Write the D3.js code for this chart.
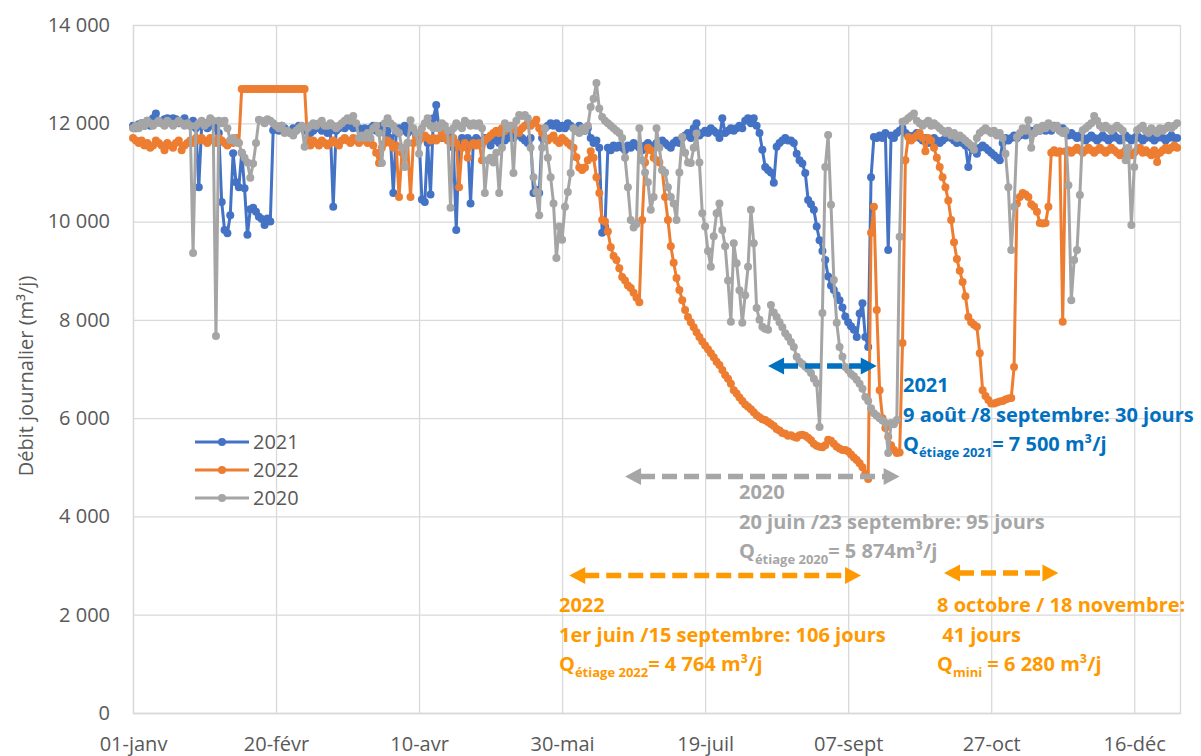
<!DOCTYPE html>
<html>
<head>
<meta charset="utf-8">
<script src="https://cdn.jsdelivr.net/npm/d3@7"></script>
<style>
  body { margin: 0; background: #fff; }
  svg text { font-family: "Open Sans", sans-serif; }
</style>
</head>
<body>
<svg id="chart" width="1201" height="756"></svg>
<script>
// Axis ticks (day index from 1 January, leap-year calendar)
const tickDays = [0, 50, 100, 150, 200, 250, 300, 350];
const tickLabels = ["01-janv", "20-févr", "10-avr", "30-mai", "19-juil", "07-sept", "27-oct", "16-déc"];
const yTicks = [0, 2000, 4000, 6000, 8000, 10000, 12000, 14000];

// Daily flow (m3/j), one value per day
const q2021 = [
  11950, 11900, 11980, 12000, 11950, 12050, 11950, 12100, 12200, 12050,
  12000, 12080, 12100, 12050, 12100, 12080, 12000, 12050, 12100, 12000,
  11950, 12050, 11900, 10700, 11950, 12000, 11900, 12050, 11950, 11900,
  11800, 10400, 9830, 9760, 10130, 11390, 10800, 10700, 11400, 10680,
  9730, 10250, 10280, 10200, 10100, 10050, 9930, 10060, 10000, 11860,
  11900, 11850, 11950, 11900, 11850, 11800, 11900, 11850, 11950, 11900,
  11850, 11900, 11800, 11850, 11900, 11950, 11850, 11900, 11800, 11850,
  10300, 11850, 11900, 11950, 11900, 12000, 11950, 11900, 11950, 11900,
  11850, 11900, 11800, 11900, 11950, 11850, 11900, 11950, 11800, 11850,
  11700, 10580, 11800, 11900, 11850, 11950, 11800, 11900, 11850, 11750,
  11700, 10450, 10400, 11600, 10550, 12100, 12370, 11900, 11700, 11750,
  11800, 11700, 11500, 9830, 11600, 11700, 11650, 11700, 10370, 11650,
  11700, 11650, 11600, 11700, 11650, 11550, 11700, 11650, 11600, 11700,
  11650, 11700, 11750, 11700, 11800, 11750, 11700, 11650, 11600, 11700,
  10580, 10650, 10580, 11700, 11900, 11950, 12000, 11950, 12000, 11900,
  11950, 11900, 12000, 11950, 11900, 11850, 11950, 11900, 11850, 11900,
  11700, 11600, 11650, 11500, 9770, 9900, 11500, 11450, 11550, 11500,
  11550, 11500, 11450, 11550, 11500, 11600, 11550, 11500, 11450, 11550,
  11600, 11550, 11500, 11600, 11550, 11650, 11600, 11550, 11500, 11600,
  11650, 11600, 11700, 11750, 11800, 11700, 11900, 12000, 11750, 11800,
  11850, 11800, 11900, 11850, 11800, 11700, 12100, 11800, 11850, 11900,
  11850, 11900, 11950, 11900, 12050, 12100, 12000, 12100, 11950, 11800,
  11460, 11110, 11050, 11000, 10790, 11520, 11600, 11650, 11700, 11650,
  11650, 11600, 11380, 11250, 11180, 10990, 10440, 10350, 10240, 9900,
  9620, 9400, 9220, 8880, 8700, 8610, 8500, 8400, 8250, 8070,
  7950, 7870, 7800, 7650, 8130, 8340, 7650, 7450, 10900, 11720,
  11700, 11750, 11700, 11800, 9420, 11750, 11700, 11800, 11850, 11900,
  11800, 11750, 11700, 11750, 11800, 11700, 11650, 11700, 11600, 11650,
  11700, 11650, 11600, 11650, 11700, 11750, 11700, 11650, 11600, 11650,
  11600, 11550, 11110, 11500, 11450, 11380, 11500, 11550, 11500, 11450,
  11400, 11350, 11300, 11250, 11600, 11700, 11650, 11700, 11750, 11700,
  11750, 11800, 11750, 11800, 11850, 11800, 11900, 11850, 11900, 11850,
  11900, 11850, 11950, 11900, 11850, 11900, 11800, 11750, 11800, 11750,
  11700, 11750, 11700, 11650, 11700, 11750, 11700, 11650, 11700, 11750,
  11700, 11650, 11700, 11750, 11700, 11650, 11700, 11750, 11700, 11650,
  11700, 11750, 11700, 11650, 11700, 11750, 11700, 11650, 11700, 11750,
  11700, 11650, 11700, 11750, 11700, 11700
];

const q2022 = [
  11700, 11650, 11600, 11650, 11550, 11600, 11500, 11550, 11650, 11600,
  11550, 11450, 11600, 11550, 11500, 11600, 11650, 11450, 11550, 11600,
  11650, 11600, 11700, 11650, 11700, 11650, 11600, 11700, 11650, 11600,
  11700, 11650, 11600, 11550, 11650, 11600, 11700, 11600, 12700, 12700,
  12700, 12700, 12700, 12700, 12700, 12700, 12700, 12700, 12700, 12700,
  12700, 12700, 12700, 12700, 12700, 12700, 12700, 12700, 12700, 12700,
  12700, 11650, 11550, 11650, 11600, 11550, 11650, 11600, 11550, 11600,
  11650, 11600, 11550, 11650, 11700, 11650, 11600, 11700, 11650, 11600,
  11650, 11700, 11600, 11650, 11550, 11400, 11190, 11500, 11600, 11650,
  11600, 11500, 11550, 10500, 11400, 11500, 11600, 10500, 11600, 11700,
  11650, 11700, 11750, 11700, 11650, 11700, 11650, 11700, 11800, 11700,
  11650, 11600, 11700, 11600, 10700, 11500, 11600, 11300, 11550, 11600,
  11550, 11600, 11250, 11650, 11700, 11750, 11800, 11850, 11800, 11900,
  11850, 11900, 11950, 11900, 11850, 11800, 11900, 11950, 12000, 11950,
  12000, 12070, 11900, 11800, 11700, 11650, 11700, 11750, 11650, 11600,
  11700, 11650, 11600, 11550, 11500, 11310, 11100, 11050, 11100, 11250,
  11430, 11300, 10900, 10580, 10030, 10000, 9800, 9480, 9300, 9220,
  9050, 8870, 8800, 8700, 8650, 8550, 8450, 8360, 10030, 11200,
  11500, 11450, 11300, 11250, 11200, 11050, 10500, 10030, 9500, 9160,
  8850, 8610, 8400, 8200, 8060, 7950, 7850, 7750, 7650, 7560,
  7480, 7400, 7320, 7240, 7150, 7080, 6980, 6880, 6800, 6700,
  6570, 6500, 6420, 6350, 6280, 6230, 6180, 6120, 6060, 6020,
  5980, 5960, 5920, 5880, 5840, 5780, 5750, 5700, 5680, 5640,
  5650, 5620, 5600, 5650, 5660, 5640, 5600, 5550, 5480, 5440,
  5420, 5410, 5450, 5560, 5540, 5480, 5420, 5380, 5350, 5350,
  5320, 5260, 5200, 5150, 5080, 5000, 4880, 4764, 9770, 10300,
  8200, 6570, 6000, 5800, 5620, 5450, 5350, 5290, 5300, 7530,
  11250, 11720, 11650, 11700, 11750, 11800, 11700, 11430, 11700, 11650,
  11500, 11300, 11110, 10900, 10700, 10430, 10030, 9580, 9240, 9000,
  8770, 8480, 8060, 7950, 7900, 7860, 7320, 6570, 6450, 6370,
  6300, 6300, 6320, 6340, 6350, 6380, 6400, 6410, 7040, 10370,
  10500, 10580, 10550, 10500, 10350, 10300, 10200, 9970, 9960, 9970,
  10300, 11400, 11450, 11400, 11430, 7960, 11430, 11450, 11400, 11450,
  11500, 11450, 11400, 11450, 11500, 11450, 11400, 11450, 11500, 11450,
  11400, 11450, 11500, 11450, 11400, 11350, 11400, 11450, 11400, 11350,
  11400, 11450, 11500, 11400, 11450, 11400, 11350, 11450, 11210, 11400,
  11450, 11500, 11450, 11500, 11550, 11500
];

const q2020 = [
  11900, 11950, 11900, 12000, 11950, 12050, 12000, 11950, 12000, 12050,
  12000, 11950, 12050, 12000, 11950, 12000, 12050, 12000, 11950, 12000,
  11950, 9360, 11950, 12000, 12050, 11950, 12000, 12100, 12050, 7670,
  12050, 12000, 12050, 11900, 11660, 11700, 11620, 11600, 11400, 11300,
  11200, 10890, 11180, 11600, 12070, 12050, 12000, 12080, 12050, 12000,
  11950, 11900, 11950, 11800, 11850, 11800, 11750, 11850, 11900, 11950,
  11520, 11900, 11950, 12000, 11950, 12000, 12050, 11950, 11950, 12000,
  11950, 11900, 11950, 12000, 12050, 12100, 12050, 12150, 12000, 11700,
  11750, 11700, 11800, 11700, 11900, 11950, 11800, 11190, 12000, 12100,
  12000, 11950, 11850, 11800, 11500, 11110, 11600, 12060, 11900, 11800,
  11380, 11900, 12000, 12100, 11950, 11900, 11950, 11900, 12000, 11950,
  11850, 10280, 11900, 12000, 11950, 11900, 12050, 12000, 11950, 12000,
  11950, 12000, 11900, 10580, 11250, 11300, 11200, 11400, 10580, 11500,
  12000, 11900, 11950, 10990, 12050, 12170, 12150, 12170, 12100, 11500,
  10900, 10600, 10130, 11500, 11900, 11300, 10900, 10370, 9260, 9900,
  9630, 10300, 10600, 10990, 11900, 11850, 11800, 11900, 11850, 11950,
  12330, 12500, 12820, 12300, 12130, 12050, 12000, 11950, 11900, 11850,
  11800, 11700, 11300, 10700, 10030, 9880, 9950, 11900, 11250, 11000,
  10800, 10240, 10500, 11900, 11500, 11050, 11000, 10700, 10500, 10370,
  10030, 11000, 11720, 11400, 11200, 11190, 11500, 11790, 11200, 10170,
  9900, 9400, 9080, 9700, 10170, 10370, 9830, 9500, 8800, 7960,
  9560, 9150, 8600, 7940, 8500, 9080, 10240, 9560, 8240, 8000,
  7860, 7820, 7800, 8300, 8150, 8060, 7950, 7850, 7730, 7650,
  7550, 7450, 7250, 7150, 7100, 7050, 7000, 6920, 6800, 6710,
  5820, 8140, 11110, 11760, 10340, 8810, 7940, 7450, 7250, 7040,
  6980, 6900, 6850, 6780, 6700, 6600, 6430, 6350, 6200, 6100,
  6050, 6000, 5950, 5900, 5290, 5900, 5874, 5960, 9690, 12030,
  12050, 12100, 12150, 12200, 12050, 12000, 11950, 12000, 12050, 11950,
  12000, 11950, 11900, 11850, 11800, 11850, 11750, 11800, 11700, 11750,
  11700, 11650, 11600, 11550, 11460, 11700, 11800, 11850, 11900, 11850,
  11800, 11850, 11750, 11800, 11700, 11380, 10700, 9420, 10300, 11720,
  11800, 11900, 11850, 12060, 11500, 11800, 11900, 11850, 11950, 11900,
  12000, 11950, 11900, 11950, 11850, 11800, 11850, 10740, 8400, 9220,
  9420, 10540, 11860, 11900, 11950, 12000, 12150, 12050, 11950, 11900,
  11950, 11900, 11850, 11900, 11950, 11900, 11850, 11250, 11500, 9930,
  11110, 11860, 11900, 11950, 11850, 11800, 11900, 11850, 11800, 11900,
  11850, 11900, 11950, 11900, 11950, 12000
];

const seriesNames = ["2021", "2022", "2020"];
const seriesValues = [q2021, q2022, q2020];
const seriesColors = ["#4472C4", "#ED7D31", "#A5A5A5"];

const svg = d3.select("#chart");
const plot = { left: 133, right: 1180, top: 25, bottom: 713 };

const x = d3.scaleLinear().domain([0, 366]).range([plot.left, plot.right]);
const y = d3.scaleLinear().domain([0, 14000]).range([plot.bottom, plot.top]);

const frFormat = d3.formatLocale({ decimal: ",", thousands: " ", grouping: [3], currency: ["", ""] }).format(",d");

// Gridlines
svg.append("g")
  .attr("transform", `translate(${plot.left},0)`)
  .call(d3.axisLeft(y).tickValues(yTicks).tickSize(-(plot.right - plot.left)).tickFormat(""))
  .call(g => g.select(".domain").remove())
  .call(g => g.selectAll("line").attr("stroke", "#D9D9D9").attr("stroke-width", 1.3));

svg.append("g")
  .attr("transform", `translate(0,${plot.bottom})`)
  .call(d3.axisBottom(x).tickValues(tickDays).tickSize(-(plot.bottom - plot.top)).tickFormat(""))
  .call(g => g.select(".domain").attr("stroke", "#D9D9D9").attr("stroke-width", 1.3))
  .call(g => g.selectAll("line").attr("stroke", "#D9D9D9").attr("stroke-width", 1.3));

// Tick labels
svg.append("g")
  .attr("transform", `translate(${plot.left - 20},0)`)
  .call(d3.axisLeft(y).tickValues(yTicks).tickSize(0).tickFormat(frFormat))
  .call(g => g.select(".domain").remove())
  .call(g => g.selectAll("text")
    .attr("font-family", "Open Sans")
    .attr("font-size", 20)
    .attr("fill", "#595959"));

svg.append("g")
  .attr("transform", `translate(0,${plot.bottom + 21})`)
  .call(d3.axisBottom(x).tickValues(tickDays).tickSize(0).tickFormat((d, i) => tickLabels[i]))
  .call(g => g.select(".domain").remove())
  .call(g => g.selectAll("text")
    .attr("font-family", "Open Sans")
    .attr("font-size", 20)
    .attr("fill", "#595959"));

// Y axis title
svg.append("text")
  .attr("transform", "translate(33,376) rotate(-90)")
  .attr("text-anchor", "middle")
  .attr("font-size", 20)
  .attr("fill", "#595959")
  .text("Débit journalier (m³/j)");

// Series: line + markers
const line = d3.line().x((d, i) => x(i)).y(d => y(d));

seriesValues.forEach((vals, s) => {
  const g = svg.append("g").attr("class", "series");
  g.append("path")
    .attr("d", line(vals))
    .attr("fill", "none")
    .attr("stroke", seriesColors[s])
    .attr("stroke-width", 3)
    .attr("stroke-linejoin", "round");
  g.selectAll("circle")
    .data(vals)
    .join("circle")
    .attr("cx", (d, i) => x(i))
    .attr("cy", d => y(d))
    .attr("r", 4)
    .attr("fill", seriesColors[s]);
});

// Legend
const legend = svg.append("g").attr("transform", "translate(195,442)");
seriesNames.forEach((name, i) => {
  const row = legend.append("g").attr("transform", `translate(0,${i * 28})`);
  row.append("line").attr("x1", 0).attr("x2", 54).attr("y1", 0).attr("y2", 0)
    .attr("stroke", seriesColors[i]).attr("stroke-width", 3);
  row.append("circle").attr("cx", 27).attr("cy", 0).attr("r", 4).attr("fill", seriesColors[i]);
  row.append("text").attr("x", 58).attr("y", 7).attr("font-size", 20).attr("fill", "#595959").text(name);
});

// Dashed double arrows (in data units: days and m3/j)
const arrows = [
  { from: 222, to: 260, at: 7060, color: "#0070C0" },
  { from: 172, to: 268, at: 4810, color: "#A6A6A6" },
  { from: 152.5, to: 254.5, at: 2800, color: "#FF9900" },
  { from: 283.5, to: 323.5, at: 2850, color: "#FF9900" }
];

arrows.forEach(a => {
  const x1 = x(a.from), x2 = x(a.to), yy = y(a.at);
  const head = 16, half = 8.5;
  svg.append("line")
    .attr("x1", x1 + head - 1).attr("x2", x2 - head + 1)
    .attr("y1", yy).attr("y2", yy)
    .attr("stroke", a.color).attr("stroke-width", 5.5)
    .attr("stroke-dasharray", "15,7");
  svg.append("path")
    .attr("d", `M${x1},${yy}L${x1 + head},${yy - half}L${x1 + head},${yy + half}Z`)
    .attr("fill", a.color);
  svg.append("path")
    .attr("d", `M${x2},${yy}L${x2 - head},${yy - half}L${x2 - head},${yy + half}Z`)
    .attr("fill", a.color);
});

// Annotation blocks
function qLine(g, xx, yy, sub, rest) {
  const t = g.append("text").attr("x", xx).attr("y", yy);
  t.append("tspan").text("Q");
  t.append("tspan").attr("font-size", 13).attr("dy", 6).text(sub);
  t.append("tspan").attr("font-size", 20).attr("dy", -6).text(rest);
}

const notes = [
  { x: 903, y: 392, color: "#0070C0", lines: ["2021", "9 août /8 septembre: 30 jours"], sub: "étiage 2021", rest: "= 7 500 m³/j" },
  { x: 739, y: 499, color: "#A6A6A6", lines: ["2020", "20 juin /23 septembre: 95 jours"], sub: "étiage 2020", rest: "= 5 874m³/j" },
  { x: 559, y: 612, color: "#FF9900", lines: ["2022", "1er juin /15 septembre: 106 jours"], sub: "étiage 2022", rest: "= 4 764 m³/j" },
  { x: 937, y: 612, color: "#FF9900", lines: ["8 octobre / 18 novembre:", "\u00a041 jours"], sub: "mini", rest: " = 6 280 m³/j" }
];

notes.forEach(n => {
  const g = svg.append("g")
    .attr("font-size", 20)
    .attr("font-weight", "bold")
    .attr("fill", n.color);
  n.lines.forEach((l, i) => {
    g.append("text").attr("x", n.x).attr("y", n.y + i * 29.5).text(l);
  });
  qLine(g, n.x, n.y + 58.5, n.sub, n.rest);
});
</script>
</body>
</html>
